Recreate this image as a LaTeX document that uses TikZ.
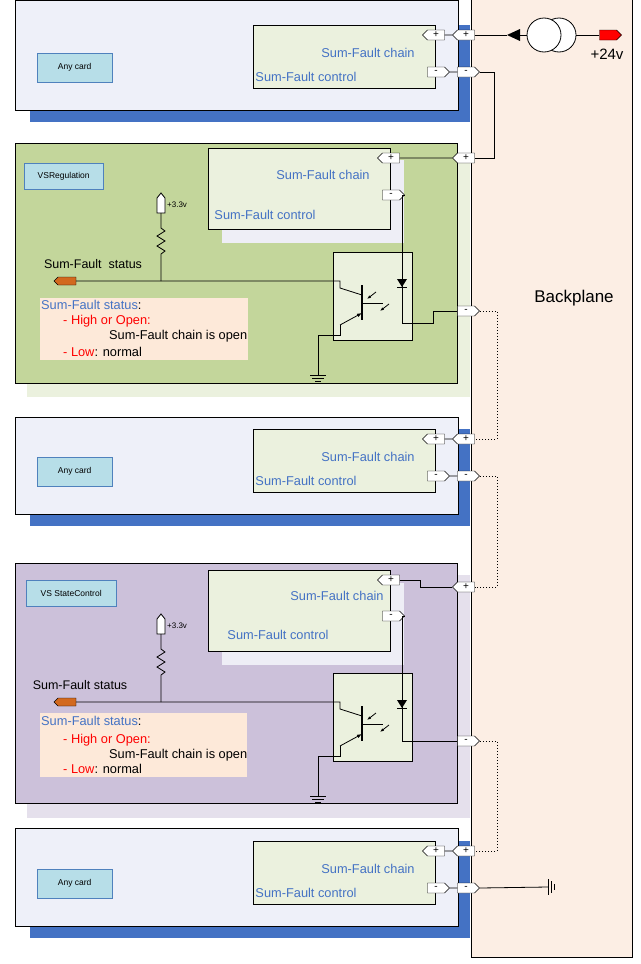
\documentclass[tikz,border=0pt]{standalone}
\usepackage{fontspec}
\setmainfont{Liberation Sans}
\usetikzlibrary{shapes.symbols,arrows.meta}
\definecolor{bpfill}{HTML}{FCEEE4}
\definecolor{cardblue}{HTML}{EEF0F9}
\definecolor{shblue}{HTML}{4472C4}
\definecolor{innerg}{HTML}{EBF1DE}
\definecolor{greencard}{HTML}{C3D69B}
\definecolor{purplecard}{HTML}{CCC1DA}
\definecolor{purplesh}{HTML}{E5E0EC}
\definecolor{lavsh}{HTML}{EEEEF6}
\definecolor{lblfill}{HTML}{B7DEE8}
\definecolor{lblborder}{HTML}{4F81BD}
\definecolor{txtbox}{HTML}{FDE9D9}
\definecolor{sfblue}{HTML}{4472C4}
\definecolor{orangetag}{HTML}{D2691E}
\tikzset{
 tagL/.style={signal, signal to=west, draw, fill=white, minimum width=22pt, minimum height=10pt, inner sep=0pt, font=\fontsize{10}{10}\selectfont},
 tagR/.style={signal, signal to=east, draw, fill=white, minimum width=22pt, minimum height=10pt, inner sep=0pt, font=\fontsize{10}{10}\selectfont},
 lbl/.style={draw=lblborder, fill=lblfill, font=\fontsize{8.5}{9}\selectfont, anchor=north west, inner sep=0pt},
 sf/.style={text=sfblue, font=\fontsize{12.8}{15}\selectfont, inner sep=0pt},
 wire/.style={line width=0.8pt},
 dots/.style={line width=1pt, dotted},
 small/.style={font=\fontsize{12.8}{15}\selectfont, inner sep=0pt, anchor=west},
}
\newcommand\anycard[3]{% #1 name, #2 shift, #3 card top (relative)
 \begin{scope}[shift={(0,#2)}]
 \fill[shblue] (30,25) rectangle (470,122);
 \draw[fill=cardblue] (15,#3) rectangle (458,110);
 \draw[fill=innerg] (253,25) rectangle (435,88);
 \node[sf] at (368,53) {Sum-Fault chain};
 \node[sf] at (306,77) {Sum-Fault control};
 \node[lbl, minimum width=75pt, minimum height=29pt] (#1l) at (37,53) {Any card};
 \node[tagL] (#1ip) at (436,35) {+};
 \node[tagL] (#1op) at (466,35) {+};
 \node[tagR] (#1im) at (436,72) {-};
 \node[tagR] (#1om) at (466,72) {-};
 \draw[wire] (#1ip) -- (#1op);
 \draw[wire] (#1im) -- (#1om);
 \end{scope}}
\newcommand\circuit[2]{% #1 name, #2 y shift
 \begin{scope}[shift={(0,#2)}]
 \draw[wire,fill=innerg] (333,252) rectangle (412,340);
 \draw[wire,fill=white] (157,213) -- (157,198) -- (161,193) -- (165,198) -- (165,213) -- cycle;
 \node[font=\fontsize{8}{8}\selectfont, anchor=west, inner sep=0pt] at (167,205) {+3.3v};
 \draw[wire] (161,213) -- (161,228) -- (165,231) -- (157,236) -- (165,241) -- (157,246) -- (165,251) -- (161,254) -- (161,281);
 \node[signal, signal to=west, draw, fill=orangetag, minimum width=22pt, minimum height=8pt, inner sep=0pt] (#1st) at (67,281) {};
 \draw[wire] (#1st.east) -- (340,281) -- (340,288) -- (362,295);
 \draw[line width=1.2pt] (362,285) -- (362,320);
 \draw[wire] (362,303) -- (383,303);
 \draw[wire,-{Latex[length=5pt]}] (340,325) -- (362,313);
 \draw[wire] (340,325) -- (340,335) -- (318,335) coordinate (#1g) -- (318,375);
 \draw[wire] (310,375) -- (326,375) (312,378) -- (324,378) (315,381) -- (321,381);
 \draw[wire,-{Latex[length=4pt]}] (376,292) -- (367,299);
 \draw[wire,-{Latex[length=4pt]}] (389,304) -- (380,311);
 \end{scope}}
\newcommand\diode[1]{%
 \begin{scope}[shift={(0,#1)}]
 \fill (397,279) -- (407,279) -- (402,287) -- cycle;
 \draw[wire] (397,287) -- (407,287);
 \end{scope}}
\begin{document}
\begin{tikzpicture}[x=1pt,y=-1pt]
\useasboundingbox (0,0) rectangle (640,964);
\draw[fill=bpfill] (471,-2) rectangle (632,957);
\node[font=\fontsize{17}{20}\selectfont] (bp) at (574,298) {Backplane};

% card 1
\anycard{a}{0}{0}
\draw[wire,fill=white] (559,35) circle (17);
\draw[wire,fill=white] (544,35) circle (17);
\node[signal, signal to=east, draw, fill=red, minimum width=22pt, minimum height=10pt, inner sep=0pt] (p24) at (608,35) {};
\node[font=\fontsize{15}{17}\selectfont] at (607,54) {+24v};
\draw[wire] (p24.west) -- (576,35);
\draw[wire] (527,35) -- (520,35);
\fill (507,35) -- (520,29) -- (520,41) -- cycle;
\draw[wire] (aop.east) -- (507,35);

% card 2 VSRegulation
\fill[innerg] (27,155) rectangle (470,397);
\draw[wire,fill=greencard] (15,143) rectangle (457,383);
\node[lbl, minimum width=79pt, minimum height=26pt] (vl) at (24,163) {VSRegulation};
\fill[lavsh] (222,160) rectangle (404,243);
\draw[wire,fill=innerg] (208,148) rectangle (390,229);
\node[sf] at (323,175) {Sum-Fault chain};
\node[sf] at (265,215) {Sum-Fault control};
\circuit{v}{0}
\node[tagL] (vip) at (391,158) {+};
\node[tagR] (vim) at (391,195) {-};
\node[tagL] (vop) at (466,158) {+};
\node[tagR] (vom) at (466,311) {-};
\draw[wire] (aom.east) -- (494,72) -- (494,158) -- (vop.east);
\draw[wire] (vip) -- (vop);
\draw[wire] (vim.east) -- (402,195) -- (402,323) -- (433,323) -- (433,311) -- (vom.west);
\diode{0}
\node[inner sep=0pt, font=\fontsize{12.5}{15}\selectfont] at (93,264) {Sum-Fault\ \ status};
\fill[txtbox] (40,298) rectangle (248,360);
\node[small] at (41,305) {\textcolor{sfblue}{Sum-Fault status}:};
\node[small, text=red] at (63,321) {- High or Open:};
\node[small] at (109,336) {Sum-Fault chain is open};
\node[small] at (63,352) {\textcolor{red}{- Low}: normal};

% card 3
\anycard{b}{404}{13}
\draw[dots] (vom.east) -- (497,311) -- (497,439) -- (bop.east);

% card 4 VS StateControl
\fill[purplesh] (27,575) rectangle (470,818);
\draw[wire,fill=purplecard] (15,563) rectangle (457,803);
\node[lbl, minimum width=90pt, minimum height=26pt] (sl) at (26,580) {VS StateControl};
\fill[lavsh] (222,583) rectangle (404,665);
\draw[wire,fill=innerg] (208,570) rectangle (390,651);
\node[sf] at (337,596) {Sum-Fault chain};
\node[sf] at (278,635) {Sum-Fault control};
\circuit{s}{421}
\node[tagL] (sip) at (391,580) {+};
\node[tagR] (sim) at (391,616) {-};
\node[tagL] (sop) at (466,587) {+};
\node[tagR] (som) at (466,741) {-};
\draw[dots] (bom.east) -- (497,476) -- (497,587) -- (sop.east);
\draw[wire] (sip.east) -- (420,580) -- (420,587) -- (sop.west);
\draw[wire] (sim.east) -- (402,616) -- (402,741) -- (som.west);
\diode{421}
\node[inner sep=0pt, font=\fontsize{12.5}{15}\selectfont] at (80,685) {Sum-Fault status};
\fill[txtbox] (40,713) rectangle (247,777);
\node[small] at (41,721) {\textcolor{sfblue}{Sum-Fault status}:};
\node[small, text=red] at (63,740) {- High or Open:};
\node[small] at (109,755) {Sum-Fault chain is open};
\node[small] at (63,769) {\textcolor{red}{- Low}: normal};

% card 5
\anycard{c}{816}{12}
\draw[dots] (som.east) -- (497,741) -- (497,851) -- (cop.east);
\coordinate (gnd) at (548,887);
\draw[wire] (com.east) -- (gnd);
\draw[wire] (548,879) -- (548,895) (551,881) -- (551,893) (554,884) -- (554,890);
\end{tikzpicture}
\end{document}
